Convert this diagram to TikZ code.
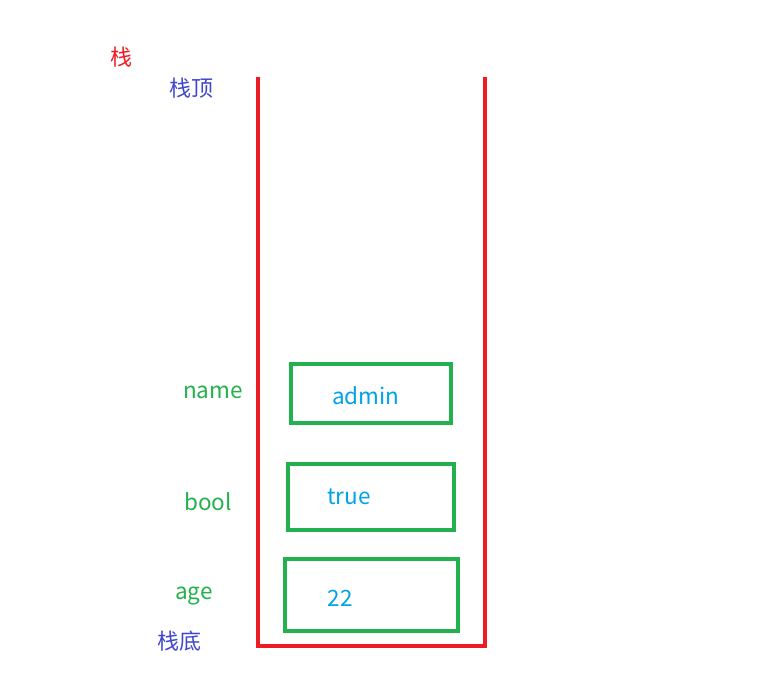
\documentclass[tikz,border=0pt]{standalone}
\usepackage{fontspec}
\setmainfont{Noto Sans CJK SC}
\usepackage{tikz}
\definecolor{stackred}{HTML}{ED1C24}
\definecolor{slotgreen}{HTML}{22B14C}
\definecolor{valblue}{HTML}{00A2E8}
\definecolor{tagblue}{HTML}{3F48CC}
\tikzset{
  slot/.style = {draw=slotgreen, line width=4pt, inner sep=0pt},
  val/.style = {text=valblue, font=\fontsize{22.5}{26}\selectfont},
  var/.style = {text=slotgreen, font=\fontsize{22.5}{26}\selectfont},
  tag/.style = {text=tagblue, font=\fontsize{22}{26}\selectfont}
}
\begin{document}
\begin{tikzpicture}[x=1pt,y=-1pt]
\useasboundingbox (0,0) rectangle (764,682);
\node[text=stackred, font=\fontsize{22}{26}\selectfont] (title) at (121,57) {栈};
\node[tag] (top) at (191,88) {栈顶};
\node[tag] (bottom) at (179,641) {栈底};
\coordinate (tl) at (258,77);
\coordinate (bl) at (258,646);
\coordinate (br) at (485,646);
\coordinate (tr) at (485,77);
\draw[stackred, line width=4pt] (tl) -- (bl) -- (br) -- (tr);
\node[slot, minimum width=160pt, minimum height=59pt] (s1) at (371,393.5) {};
\node[val] (v1) at (366,396) {admin};
\node[var] (n1) at (213,392.5) {name};
\node[slot, minimum width=166pt, minimum height=66pt] (s2) at (371,497) {};
\node[val] (v2) at (349,497) {true};
\node[var] (n2) at (208,502) {bool};
\node[slot, minimum width=173pt, minimum height=72pt] (s3) at (371.5,595) {};
\node[val] (v3) at (340,598) {22};
\node[var] (n3) at (194,596) {age};
\end{tikzpicture}
\end{document}
